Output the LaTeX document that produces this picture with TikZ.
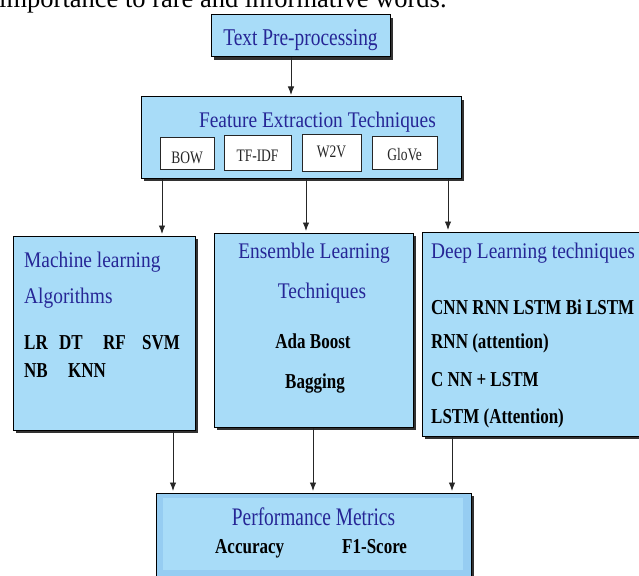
\documentclass[tikz,border=0pt]{standalone}
\usepackage{fontspec}
\setmainfont{Liberation Serif}
\usepackage{graphicx}
\usetikzlibrary{shadows,arrows.meta,calc}
\definecolor{boxfill}{RGB}{168,220,248}
\definecolor{boxband}{RGB}{150,205,242}
\definecolor{ttl}{RGB}{38,38,150}
\definecolor{shd}{RGB}{50,50,50}
\newcommand{\vst}[2]{\scalebox{1}[#1]{#2}}
\begin{document}
\begin{tikzpicture}[x=1pt,y=-1pt,
  box/.style={draw=black, line width=1pt, fill=boxfill, inner sep=0pt,
    drop shadow={shadow xshift=3pt, shadow yshift=-3pt, fill=shd, opacity=1}},
  subbox/.style={draw=black!85, line width=0.9pt, fill=white, inner sep=0pt},
  ttlt/.style={text=ttl, inner sep=0pt, font=\fontsize{19.4}{22}\selectfont},
  bodyt/.style={text=black, inner sep=0pt, font=\fontsize{17}{20}\selectfont\bfseries},
  subt/.style={text=black!85, inner sep=0pt, font=\fontsize{13.5}{16}\selectfont},
  arr/.style={draw=black!85, line width=0.9pt, shorten >=1.5pt, -{Latex[length=8.5pt,width=6.5pt]}},
]
\useasboundingbox (0,0) rectangle (639,575);
\clip (0,0) rectangle (639,575);

% clipped line of running text at the top
\node[anchor=base west, inner sep=0pt, font=\fontsize{26.5}{30}\selectfont] (topline) at (-1,8) {importance to rare and informative words.};

% boxes
\node[box, minimum width=179pt, minimum height=42pt] (pre) at (300.5,36) {};
\node[box, minimum width=320pt, minimum height=81pt] (feat) at (301,137.5) {};
\node[subbox, minimum width=54pt, minimum height=32pt] (bow) at (187,153) {};
\node[subbox, minimum width=67pt, minimum height=35pt] (tfidf) at (257.5,152.5) {};
\node[subbox, minimum width=59pt, minimum height=37pt] (wtv) at (331.5,152.5) {};
\node[subbox, minimum width=65pt, minimum height=33pt] (glove) at (404.5,152.5) {};
\node[box, minimum width=182pt, minimum height=194pt] (ml) at (104,333) {};
\node[box, minimum width=199pt, minimum height=194pt] (ens) at (313.5,330) {};
\node[box, minimum width=228pt, minimum height=204pt] (deep) at (536,334) {};
\node[box, fill=boxband, minimum width=315pt, minimum height=87pt] (perf) at (313.5,536.5) {};
\node[fill=boxfill, inner sep=0pt, minimum width=300pt, minimum height=72pt] (perfin) at (313,534) {};

% texts
\node[ttlt, anchor=base] (tpre) at (300.5,46) {\vst{1.24}{Text Pre-processing}};
\node[ttlt, anchor=base east] (tfeat) at (436,127) {\vst{1.15}{Feature Extraction Techniques}};
\node[subt, anchor=base] (tbow) at (187,163) {\vst{1.3}{BOW}};
\node[subt, anchor=base] (ttf) at (257.5,161) {\vst{1.3}{TF-IDF}};
\node[subt, anchor=base] (tw2v) at (331.5,157) {\vst{1.3}{W2V}};
\node[subt, anchor=base] (tglove) at (404.5,160) {\vst{1.3}{GloVe}};

\node[ttlt, anchor=base west] (tml1) at (24,267) {\vst{1.15}{Machine learning}};
\node[ttlt, anchor=base west] (tml2) at (24,303) {\vst{1.15}{Algorithms}};
\node[bodyt, anchor=base west] (tlr) at (24,349) {\vst{1.25}{LR}};
\node[bodyt, anchor=base west] (tdt) at (59,349) {\vst{1.25}{DT}};
\node[bodyt, anchor=base west] (trf) at (103,349) {\vst{1.25}{RF}};
\node[bodyt, anchor=base west] (tsvm) at (142,349) {\vst{1.25}{SVM}};
\node[bodyt, anchor=base west] (tnb) at (24,377) {\vst{1.25}{NB}};
\node[bodyt, anchor=base west] (tknn) at (68,377) {\vst{1.25}{KNN}};

\node[ttlt, anchor=base] (tens1) at (314,258) {\vst{1.15}{Ensemble Learning}};
\node[ttlt, anchor=base] (tens2) at (322,298) {\vst{1.15}{Techniques}};
\node[bodyt, anchor=base] (tada) at (313,348) {\vst{1.25}{Ada Boost}};
\node[bodyt, anchor=base] (tbag) at (315,388) {\vst{1.25}{Bagging}};

\node[ttlt, anchor=base west] (tdeep) at (431,258) {\vst{1.15}{Deep Learning techniques}};
\node[bodyt, anchor=base west] (td1) at (431,314) {\vst{1.25}{CNN RNN LSTM Bi LSTM}};
\node[bodyt, anchor=base west] (td2) at (431,348) {\vst{1.25}{RNN (attention)}};
\node[bodyt, anchor=base west] (td3) at (431,386) {\vst{1.25}{C NN + LSTM}};
\node[bodyt, anchor=base west] (td4) at (431,423) {\vst{1.25}{LSTM (Attention)}};

\node[ttlt, anchor=base] (tperf) at (313.5,525) {\vst{1.3}{Performance Metrics}};
\node[bodyt, anchor=base west] (tacc) at (215,553) {\vst{1.25}{Accuracy}};
\node[bodyt, anchor=base west] (tf1) at (342,553) {\vst{1.25}{F1-Score}};

% connector x positions
\path (291,0) coordinate (xa) (162,0) coordinate (xb) (306,0) coordinate (xc)
      (448,0) coordinate (xd) (173,0) coordinate (xe) (313,0) coordinate (xf)
      (452,0) coordinate (xg);

\draw[arr] (xa |- pre.south) -- (xa |- feat.north);
\draw[arr] (xb |- feat.south) -- (xb |- ml.north);
\draw[arr] (xc |- feat.south) -- (xc |- ens.north);
\draw[arr] (xd |- feat.south) -- (xd |- deep.north);
\draw[arr] (xe |- ml.south) -- (xe |- perf.north);
\draw[arr] (xf |- ens.south) -- (xf |- perf.north);
\draw[arr] (xg |- deep.south) -- (xg |- perf.north);
\end{tikzpicture}
\end{document}
